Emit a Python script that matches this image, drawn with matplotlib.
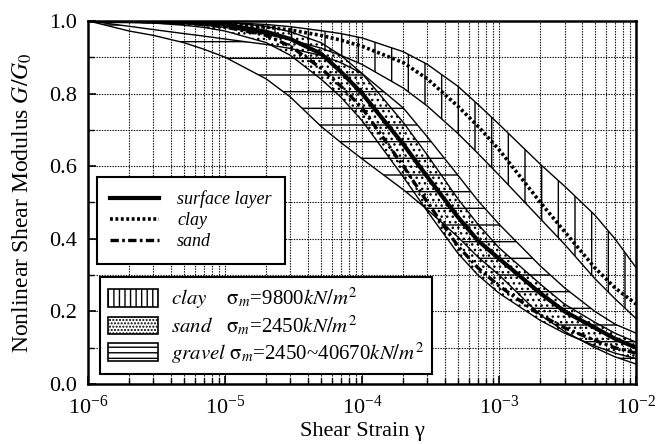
import matplotlib
matplotlib.use('Agg')
import matplotlib.pyplot as plt
import matplotlib.ticker as ticker
from matplotlib.lines import Line2D
from matplotlib.patches import Patch

plt.rcParams['font.family'] = 'serif'
plt.rcParams['font.serif'] = ['Liberation Serif', 'DejaVu Serif']
plt.rcParams['mathtext.fontset'] = 'stix'
plt.rcParams['hatch.linewidth'] = 1.0

# shear strain points
strain = [1e-6, 2e-6, 3e-6, 5e-6, 7e-6,
          1e-5, 2e-5, 3e-5, 5e-5, 7e-5,
          1e-4, 2e-4, 3e-4, 5e-4, 7e-4,
          1e-3, 2e-3, 3e-3, 5e-3, 7e-3, 1e-2]

# representative curves G/G0
surface = [1.0, 0.999, 0.998, 0.996, 0.994,
           0.99, 0.97, 0.95, 0.91, 0.86,
           0.80, 0.66, 0.57, 0.46, 0.395,
           0.345, 0.25, 0.20, 0.155, 0.125, 0.10]
clay = [1.0, 1.0, 0.999, 0.997, 0.995,
        0.992, 0.983, 0.975, 0.96, 0.947,
        0.93, 0.885, 0.84, 0.765, 0.71,
        0.645, 0.50, 0.42, 0.32, 0.265, 0.22]
sand = [1.0, 0.999, 0.997, 0.993, 0.99,
        0.983, 0.96, 0.93, 0.87, 0.82,
        0.76, 0.60, 0.50, 0.38, 0.32,
        0.27, 0.19, 0.155, 0.12, 0.10, 0.085]

# test data ranges (bands)
clay_hi = [1.0, 1.0, 1.0, 0.999, 0.998,
           0.996, 0.99, 0.984, 0.973, 0.965,
           0.953, 0.915, 0.88, 0.82, 0.77,
           0.715, 0.605, 0.545, 0.465, 0.40, 0.32]
clay_lo = [1.0, 0.999, 0.997, 0.993, 0.988,
           0.982, 0.963, 0.948, 0.925, 0.905,
           0.88, 0.815, 0.765, 0.69, 0.635,
           0.575, 0.455, 0.385, 0.29, 0.235, 0.18]
sand_hi = [1.0, 1.0, 1.0, 0.999, 0.998,
           0.996, 0.985, 0.97, 0.94, 0.905,
           0.855, 0.72, 0.63, 0.51, 0.44,
           0.375, 0.275, 0.22, 0.17, 0.14, 0.115]
sand_lo = [1.0, 0.997, 0.994, 0.988, 0.982,
           0.972, 0.94, 0.905, 0.84, 0.79,
           0.725, 0.57, 0.475, 0.36, 0.30,
           0.25, 0.175, 0.14, 0.105, 0.085, 0.07]
gravel_hi = [1.0, 0.985, 0.976, 0.965, 0.958,
             0.95, 0.935, 0.924, 0.905, 0.885,
             0.855, 0.76, 0.68, 0.575, 0.505,
             0.44, 0.325, 0.265, 0.20, 0.165, 0.14]
gravel_lo = [1.0, 0.972, 0.96, 0.94, 0.922,
             0.90, 0.84, 0.79, 0.71, 0.665,
             0.62, 0.535, 0.48, 0.405, 0.35,
             0.30, 0.19, 0.145, 0.10, 0.075, 0.055]

fig = plt.figure(figsize=(6.62, 4.44), dpi=100)
ax = fig.add_axes([0.133, 0.135, 0.828, 0.818])
ax.set_xscale('log')
ax.set_xlim(1e-6, 1e-2)
ax.set_ylim(0, 1.0)

# hatched bands
ax.fill_between(strain, clay_lo, clay_hi, facecolor='none', edgecolor='black',
                hatch='|', linewidth=0, zorder=1)
ax.fill_between(strain, gravel_lo, gravel_hi, facecolor='none', edgecolor='black',
                hatch='-', linewidth=0, zorder=1)
ax.fill_between(strain, sand_lo, sand_hi, facecolor='none', edgecolor='black',
                hatch='...', linewidth=0, zorder=1)
for band in [clay_hi, clay_lo, sand_hi, sand_lo, gravel_hi, gravel_lo]:
    ax.plot(strain, band, color='black', lw=1.0, zorder=2)

# representative curves
ax.plot(strain, surface, color='black', lw=3.0, zorder=3)
ax.plot(strain, clay, color='black', lw=2.6, ls=(0, (0.8, 0.7)), zorder=3)
ax.plot(strain, sand, color='black', lw=2.4, ls=(0, (2.5, 1.0, 0.8, 1.0)), zorder=3)

# grid and ticks
ax.yaxis.set_major_locator(ticker.MultipleLocator(0.2))
ax.yaxis.set_minor_locator(ticker.MultipleLocator(0.1))
ax.yaxis.set_major_formatter(ticker.FormatStrFormatter('%.1f'))
ax.xaxis.set_minor_locator(ticker.LogLocator(base=10, subs=range(2, 10)))
ax.xaxis.set_minor_formatter(ticker.NullFormatter())
ax.grid(which='both', color='black', lw=0.8, ls=(0, (1.2, 1.2)), zorder=0)
ax.tick_params(which='both', direction='in', labelsize=16)
ax.tick_params(which='major', length=6, width=1.2)
ax.tick_params(which='minor', length=4, width=1.0)
ax.tick_params(axis='x', pad=8)
ax.tick_params(axis='y', pad=8)
for s in ax.spines.values():
    s.set_linewidth(1.8)

ax.set_xlabel('Shear Strain \u03b3', fontsize=16)
ax.xaxis.set_label_coords(0.5, -0.105)
ax.set_ylabel('Nonlinear Shear Modulus $G/G_0$', fontsize=17)
ax.yaxis.set_label_coords(-0.098, 0.5)

# legend for curves
line_handles = [
    Line2D([], [], color='black', lw=3.0),
    Line2D([], [], color='black', lw=2.6, ls=(0, (0.8, 0.7))),
    Line2D([], [], color='black', lw=2.4, ls=(0, (2.5, 1.0, 0.8, 1.0))),
]
leg1 = ax.legend(line_handles, ['surface layer', 'clay', 'sand'],
                 loc='upper left', bbox_to_anchor=(0.016, 0.57), borderaxespad=0,
                 prop={'style': 'italic', 'size': 13}, handlelength=2.7,
                 handletextpad=1.0, labelspacing=0.22, borderpad=0.75,
                 fancybox=False, framealpha=1, edgecolor='black')
leg1.get_frame().set_linewidth(1.5)
leg1.set_zorder(5)
ax.add_artist(leg1)

# legend for bands
band_handles = [
    Patch(facecolor='white', edgecolor='black', hatch='|||', lw=1.2),
    Patch(facecolor='white', edgecolor='black', hatch='.....', lw=1.2),
    Patch(facecolor='white', edgecolor='black', hatch='---', lw=1.2),
]
band_labels = [
    r'$\mathit{clay}$    $\mathrm{\sigma}_m$=9800$kN/m^2$',
    r'$\mathit{sand}$   $\mathrm{\sigma}_m$=2450$kN/m^2$',
    r'$\mathit{gravel}$ $\mathrm{\sigma}_m$=2450~40670$kN/m^2$',
]
leg2 = ax.legend(band_handles, band_labels, loc='lower left',
                 bbox_to_anchor=(0.022, 0.028), borderaxespad=0,
                 prop={'size': 15}, handlelength=2.4, handleheight=0.95,
                 handletextpad=0.6, labelspacing=0.12, borderpad=0.4,
                 fancybox=False, framealpha=1, edgecolor='black')
leg2.get_frame().set_linewidth(1.5)
leg2.set_zorder(5)

fig.savefig('out.png', dpi=100)
